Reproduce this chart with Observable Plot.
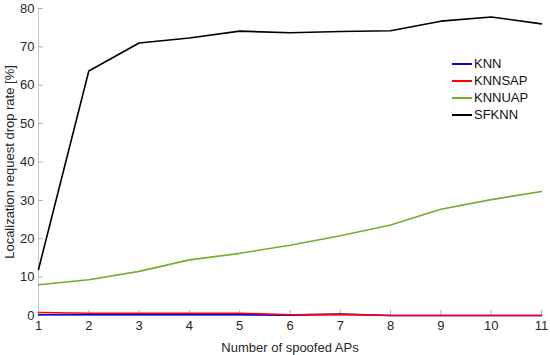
<!DOCTYPE html>
<html>
<head>
<meta charset="utf-8">
<script src="https://cdn.jsdelivr.net/npm/d3@7"></script>
<script src="https://cdn.jsdelivr.net/npm/@observablehq/plot@0.6"></script>
<style>
  html, body { margin: 0; padding: 0; background: #fff; }
  #wrap { position: relative; width: 550px; height: 355px; font-family: "Liberation Sans", Arial, sans-serif; }
  #legend { position: absolute; left: 452px; top: 55px; font-size: 13px; color: #111; line-height: 17px; }
  #legend div { display: flex; align-items: center; }
  #legend span.sw { display: inline-block; width: 20px; height: 2px; margin-right: 2px; }
</style>
</head>
<body>
<div id="wrap"></div>
<script>
const spoofed = [1, 2, 3, 4, 5, 6, 7, 8, 9, 10, 11];
const seriesNames = ["KNN", "KNNSAP", "KNNUAP", "SFKNN"];
const seriesColors = ["#0000ff", "#ff0000", "#77ac30", "#000000"];
const knn    = [0.2, 0.2, 0.2, 0.2, 0.2, 0.1, 0.4, 0.0, 0.0, 0.0, 0.0];
const knnsap = [0.8, 0.6, 0.6, 0.6, 0.6, 0.2, 0.3, 0.0, 0.0, 0.0, 0.0];
const knnuap = [8.0, 9.3, 11.5, 14.5, 16.2, 18.3, 20.8, 23.6, 27.7, 30.2, 32.3];
const sfknn  = [12.0, 63.7, 71.0, 72.3, 74.1, 73.7, 74.0, 74.2, 76.7, 77.8, 76.0];
const xTicks = [1, 2, 3, 4, 5, 6, 7, 8, 9, 10, 11];
const yTicks = [0, 10, 20, 30, 40, 50, 60, 70, 80];

const allSeries = [knn, knnsap, knnuap, sfknn];
const data = [];
allSeries.forEach((vals, i) => vals.forEach((v, j) => data.push({series: seriesNames[i], x: spoofed[j], y: v})));

const chart = Plot.plot({
  width: 550,
  height: 355,
  marginLeft: 38,
  marginRight: 9,
  marginTop: 8,
  marginBottom: 40,
  style: {fontFamily: "Liberation Sans, Arial, sans-serif", fontSize: "13px", color: "#262626", background: "#fff"},
  x: {domain: [1, 11]},
  y: {domain: [0, 80]},
  color: {domain: seriesNames, range: seriesColors},
  marks: [
    Plot.ruleX([1], {stroke: "#c8c8c8", strokeWidth: 1}),
    Plot.ruleY([0], {stroke: "#c8c8c8", strokeWidth: 1}),
    Plot.axisX(xTicks, {tickSize: -5, stroke: "#b0b0b0", tickPadding: 10, fontSize: 13, fill: "#262626",
      label: "Number of spoofed APs", labelAnchor: "center", labelArrow: "none", labelOffset: 36}),
    Plot.axisY(yTicks, {tickSize: -5, stroke: "#b0b0b0", tickPadding: 9, fontSize: 13, fill: "#262626",
      label: "Localization request drop rate [%]", labelAnchor: "center", labelArrow: "none", labelOffset: 34}),
    Plot.line(data, {x: "x", y: "y", z: "series", stroke: "series", strokeWidth: 1.6, curve: "linear"})
  ]
});
document.getElementById("wrap").appendChild(chart);

const legend = document.createElement("div");
legend.id = "legend";
seriesNames.forEach((n, i) => {
  const row = document.createElement("div");
  const sw = document.createElement("span");
  sw.className = "sw";
  sw.style.background = seriesColors[i];
  row.appendChild(sw);
  row.appendChild(document.createTextNode(n));
  legend.appendChild(row);
});
document.getElementById("wrap").appendChild(legend);
</script>
</body>
</html>
